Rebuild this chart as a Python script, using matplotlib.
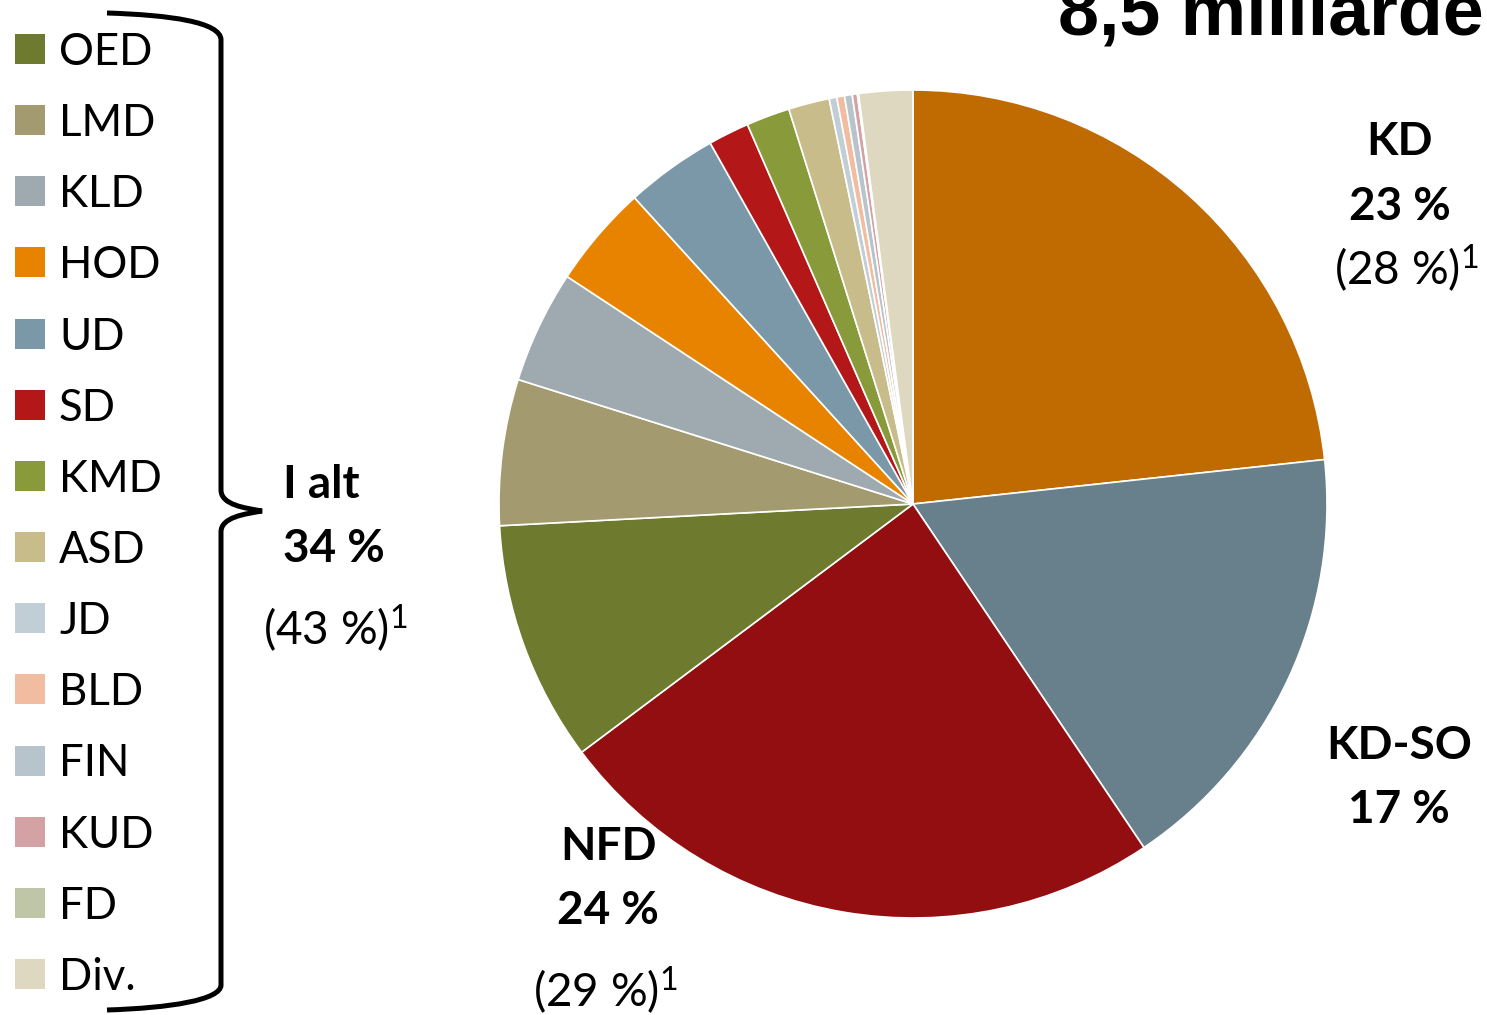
import matplotlib
matplotlib.use("Agg")
import matplotlib.pyplot as plt
from matplotlib.patches import Rectangle, PathPatch
from matplotlib.path import Path

plt.rcParams["mathtext.fontset"] = "custom"
plt.rcParams["mathtext.rm"] = "Lato"
plt.rcParams["mathtext.it"] = "Lato:italic"
plt.rcParams["mathtext.bf"] = "Lato:bold"

W, H = 1487, 1015

# slices, clockwise from 12 o'clock
labels = ["KD", "KD-SO", "NFD", "OED", "LMD", "KLD", "HOD", "UD", "SD", "KMD",
          "ASD", "JD", "BLD", "FIN", "KUD", "FD", "Div."]
shares = [23.3, 17.3, 24.2, 9.4, 5.7, 4.4, 4.0, 3.6, 1.6, 1.7,
          1.6, 0.3, 0.3, 0.3, 0.2, 0.05, 2.1]
colors = ["#bf6b02", "#687f8c", "#930e10", "#6e7b2e", "#a39b6f", "#9ea9b0",
          "#e88300", "#7a98a8", "#b31718", "#889a3a", "#c8bd8a", "#c2ced5",
          "#f2bca0", "#b8c4cc", "#d4a2a4", "#bfc6a8", "#ded8c0"]

legend_items = labels[3:]
legend_colors = colors[3:]

# annotation lines: (text, x, baseline y in px from top)
bold_lines = [
    ("KD", 1400, 155), ("23 %", 1400, 220),
    ("KD-SO", 1399, 759), ("17 %", 1399, 823),
    ("NFD", 609, 860), ("24 %", 608, 924),
]
prev_year = [("(28 %)", 1407, 285), ("(29 %)", 606, 1007), ("(43 %)", 336, 645)]
group_lines = [("I alt", 498), ("34 %", 562)]

fig = plt.figure(figsize=(W / 100, H / 100), dpi=100)
ax = fig.add_axes([0, 0, 1, 1])

def fy(y):
    return H - y

ax.pie(shares, colors=colors, startangle=90, counterclock=False,
       center=(913, fy(504)), radius=414, frame=True,
       wedgeprops=dict(edgecolor="white", linewidth=1.2))
ax.set_xlim(0, W)
ax.set_ylim(0, H)
ax.set_aspect("auto")
ax.axis("off")

FONT = "Lato"

# legend
for i, (lab, col) in enumerate(zip(legend_items, legend_colors)):
    yc = 49 + i * 71.15
    ax.add_patch(Rectangle((15, fy(yc) - 15), 30, 30, color=col, lw=0))
    ax.text(59, fy(yc + 16), lab, fontsize=31.5, family=FONT, ha="left", va="baseline")

# brace
v = [(107, 13), (170, 15), (221, 22), (221, 40),
     (221, 490),
     (221, 505), (245, 508), (262, 511),
     (245, 514), (221, 517), (221, 532),
     (221, 985),
     (221, 1000), (170, 1008), (107, 1010)]
codes = [Path.MOVETO, Path.CURVE4, Path.CURVE4, Path.CURVE4,
         Path.LINETO,
         Path.CURVE4, Path.CURVE4, Path.CURVE4,
         Path.CURVE4, Path.CURVE4, Path.CURVE4,
         Path.LINETO,
         Path.CURVE4, Path.CURVE4, Path.CURVE4]
ax.add_patch(PathPatch(Path([(x, fy(y)) for x, y in v], codes),
                       fill=False, lw=3.6, edgecolor="black", capstyle="butt"))

for txt, yb in group_lines:
    ax.text(283, fy(yb), txt, fontsize=33, family=FONT, fontweight="bold",
            ha="left", va="baseline")

for txt, x, yb in bold_lines:
    ax.text(x, fy(yb), txt, fontsize=33, family=FONT, fontweight="bold",
            ha="center", va="baseline")

for txt, x, yb in prev_year:
    ax.text(x, fy(yb), txt + r"$^{\mathrm{1}}$",
            fontsize=33, family=FONT, ha="center", va="baseline")

# title, partly outside the canvas as in the original slide
ax.text(1058, fy(34), "8,5 milliarder", fontsize=53, family="Liberation Sans",
        fontweight="bold", ha="left", va="baseline")

fig.savefig("out.png", dpi=100)
